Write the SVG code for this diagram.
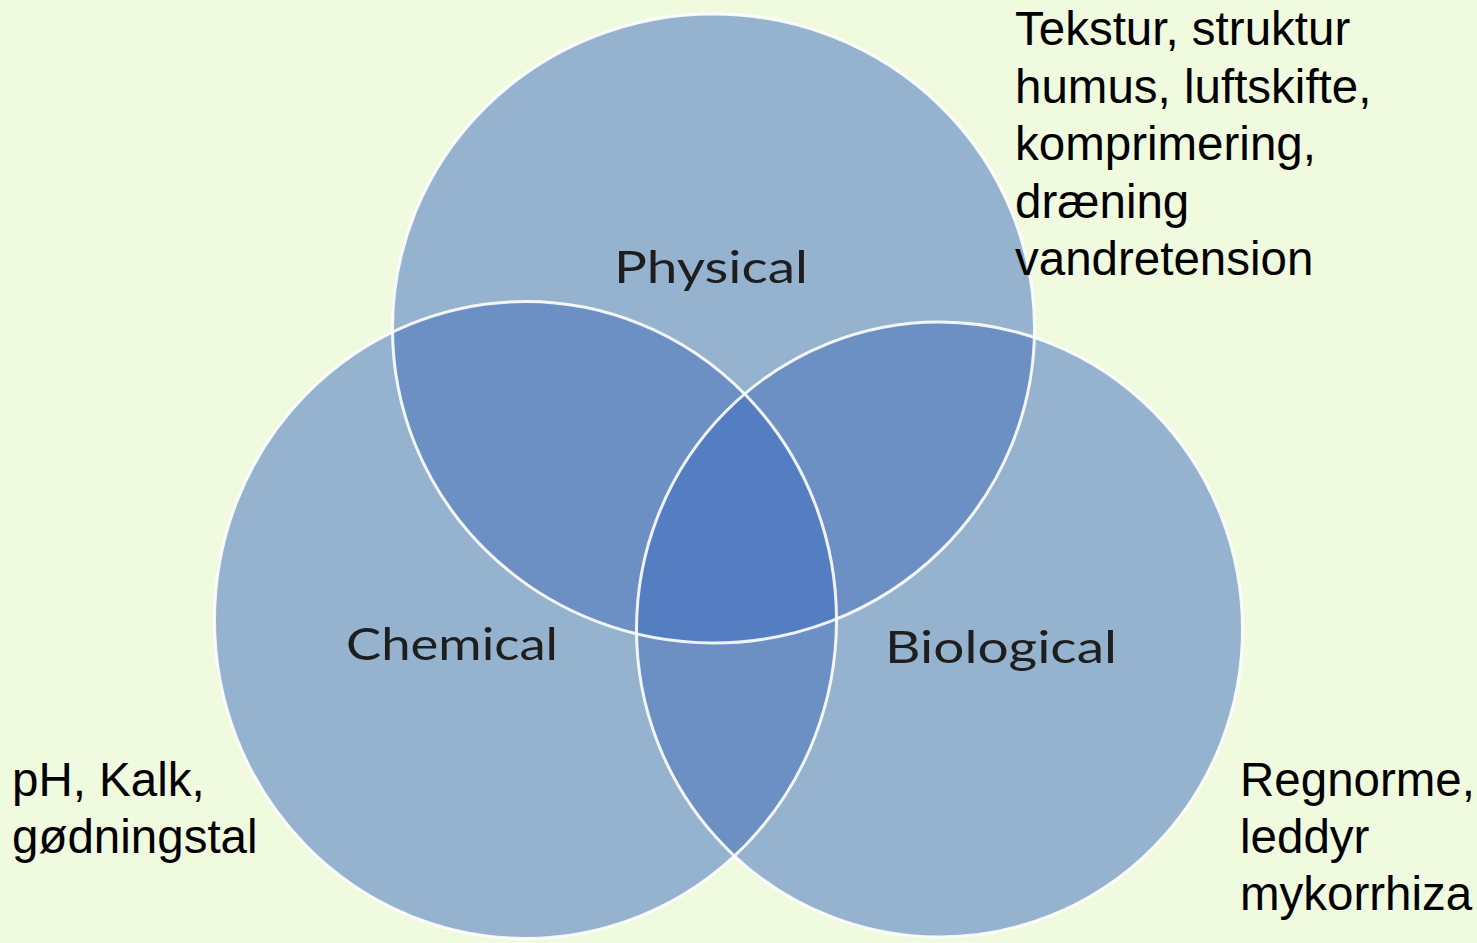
<svg xmlns="http://www.w3.org/2000/svg" width="1477" height="943" viewBox="0 0 1477 943">
<style>
.c{fill:#95B3CF;}
.d{fill:#6C8FC4;}
.t{fill:#557EC2;}
.o{fill:none;stroke:#FFFFFF;stroke-width:3;stroke-opacity:0.9;}
.lbl{font-family:Lato,"Noto Sans",sans-serif;font-size:44px;fill:#1E1E1E;}
.txt{font-family:"Liberation Sans",Arial,sans-serif;font-size:47.5px;fill:#000000;}
</style>
<defs>
<clipPath id="cpP"><ellipse cx="713.5" cy="328.5" rx="321" ry="314.5"/></clipPath>
<clipPath id="cpC"><ellipse cx="525.5" cy="620" rx="311" ry="318.5"/></clipPath>
<clipPath id="cpB"><ellipse cx="939.5" cy="629.5" rx="303" ry="307.5"/></clipPath>
</defs>
<rect width="1477" height="943" fill="#F0FADF"/>
<g id="physical">
<ellipse class="c" cx="713.5" cy="328.5" rx="321" ry="314.5"/>
</g>
<g id="chemical">
<ellipse class="c" cx="525.5" cy="620" rx="311" ry="318.5"/>
</g>
<g id="biological">
<ellipse class="c" cx="939.5" cy="629.5" rx="303" ry="307.5"/>
</g>
<g id="overlaps">
<g clip-path="url(#cpP)"><ellipse class="d" cx="525.5" cy="620" rx="311" ry="318.5"/><ellipse class="d" cx="939.5" cy="629.5" rx="303" ry="307.5"/></g>
<g clip-path="url(#cpC)"><ellipse class="d" cx="939.5" cy="629.5" rx="303" ry="307.5"/></g>
<g clip-path="url(#cpP)"><g clip-path="url(#cpC)"><ellipse class="t" cx="939.5" cy="629.5" rx="303" ry="307.5"/></g></g>
</g>
<g id="outlines">
<ellipse class="o" cx="713.5" cy="328.5" rx="321" ry="314.5"/>
<ellipse class="o" cx="525.5" cy="620" rx="311" ry="318.5"/>
<ellipse class="o" cx="939.5" cy="629.5" rx="303" ry="307.5"/>
</g>
<g id="labels">
<text class="lbl" x="614" y="283" textLength="194" lengthAdjust="spacingAndGlyphs">Physical</text>
<text class="lbl" x="346" y="660" textLength="212" lengthAdjust="spacingAndGlyphs">Chemical</text>
<text class="lbl" x="885" y="663" textLength="232" lengthAdjust="spacingAndGlyphs">Biological</text>
</g>
<g id="notes">
<text class="txt" x="1015" y="45">Tekstur, struktur</text>
<text class="txt" x="1015" y="103">humus, luftskifte,</text>
<text class="txt" x="1015" y="160">komprimering,</text>
<text class="txt" x="1015" y="218">dræning</text>
<text class="txt" x="1015" y="275">vandretension</text>
<text class="txt" x="12" y="796">pH, Kalk,</text>
<text class="txt" x="12" y="853">gødningstal</text>
<text class="txt" x="1240" y="796">Regnorme,</text>
<text class="txt" x="1240" y="853">leddyr</text>
<text class="txt" x="1240" y="910">mykorrhiza</text>
</g>
</svg>
